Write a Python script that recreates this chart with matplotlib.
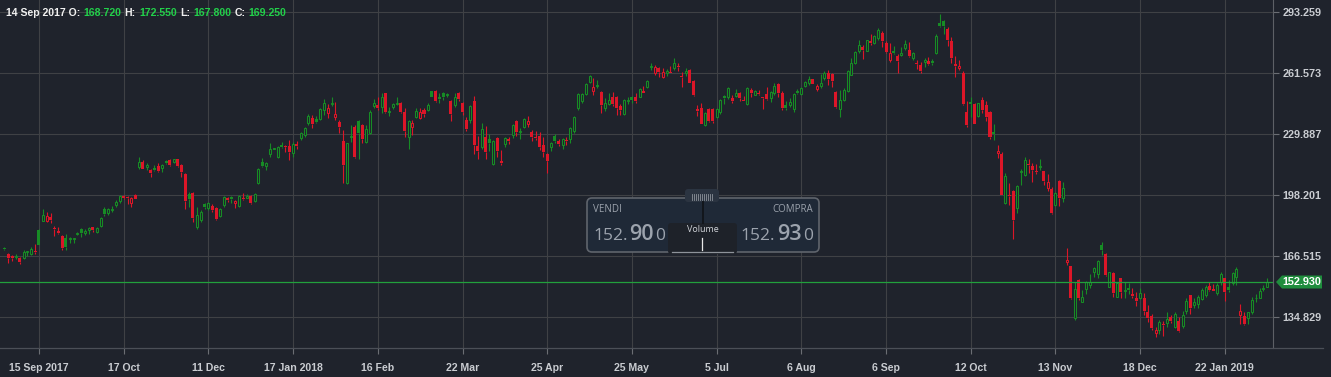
import matplotlib
matplotlib.use('Agg')
import matplotlib.pyplot as plt
import numpy as np
from matplotlib.patches import FancyBboxPatch, Polygon

# daily candles, 14 Sep 2017 -> early Feb 2019
opens = [
    170.8, 167.5, 166.3, 165.8, 165.6, 165.3, 168.5, 167.5, 169.1, 180.0, 184.8, 184.8, 186.7, 181.2, 179.6, 176.9,
    175.8, 175.1, 175.3, 178.1, 180.4, 178.6, 179.8, 181.5, 178.8, 182.1, 190.9, 188.7, 190.4, 193.2, 195.3, 197.9,
    197.2, 194.2, 198.0, 212.9, 215.2, 212.9, 211.2, 212.2, 213.3, 212.1, 215.9, 216.4, 215.5, 216.9, 214.0, 209.1,
    198.9, 199.1, 181.7, 185.2, 193.5, 191.3, 192.6, 191.4, 187.4, 193.0, 196.8, 197.2, 193.9, 192.5, 196.5, 196.8,
    197.9, 195.3, 204.3, 215.2, 213.5, 219.5, 222.3, 218.1, 224.2, 223.3, 223.7, 219.9, 224.6, 227.7, 229.4, 235.5,
    238.4, 237.9, 237.9, 242.4, 240.7, 245.5, 238.6, 236.4, 226.5, 204.3, 228.5, 233.8, 236.7, 234.6, 225.9, 230.6,
    244.5, 245.0, 244.2, 251.1, 241.6, 244.2, 245.5, 246.2, 241.6, 228.2, 233.8, 239.0, 238.1, 242.4, 242.4, 252.1,
    252.1, 249.4, 251.4, 250.4, 247.1, 245.0, 251.1, 246.2, 237.2, 237.2, 247.1, 223.7, 223.0, 228.5, 227.2, 214.3,
    227.9, 216.1, 224.7, 227.2, 229.4, 236.7, 230.8, 233.4, 235.1, 231.1, 228.3, 228.9, 224.4, 219.5, 223.0, 228.9,
    226.5, 224.2, 226.8, 227.2, 231.7, 243.3, 247.3, 250.7, 257.2, 252.5, 255.0, 252.0, 243.3, 245.5, 249.0, 249.4,
    244.5, 240.2, 247.1, 249.0, 249.0, 249.4, 252.3, 254.2, 265.0, 261.5, 264.1, 259.4, 261.5, 262.4, 264.1, 265.3,
    260.1, 261.5, 263.2, 257.5, 242.8, 243.3, 234.6, 242.8, 242.8, 238.6, 241.6, 249.7, 249.0, 248.8, 249.7, 251.4,
    247.7, 245.4, 252.8, 250.4, 251.3, 249.3, 250.8, 248.7, 251.3, 256.0, 251.3, 244.9, 244.9, 243.1, 252.5, 250.8,
    254.7, 256.5, 258.6, 253.5, 254.7, 259.1, 261.7, 261.2, 251.8, 243.1, 247.8, 252.1, 260.8, 266.9, 273.0, 275.2,
    273.3, 278.2, 277.3, 279.9, 282.5, 277.3, 268.6, 273.3, 270.7, 271.2, 274.7, 273.6, 269.6, 266.6, 265.8, 267.6,
    268.1, 268.1, 271.9, 287.9, 288.9, 284.6, 278.5, 266.2, 264.5, 261.5, 241.6, 246.8, 245.5, 239.3, 247.6, 245.0,
    241.6, 231.2, 219.9, 219.4, 194.2, 198.2, 200.3, 191.3, 210.0, 208.6, 214.4, 213.3, 210.3, 212.8, 210.7, 201.7,
    201.3, 193.0, 205.5, 196.5, 163.2, 161.3, 134.0, 154.0, 142.7, 149.3, 151.4, 158.3, 156.9, 172.2, 167.5, 150.5,
    157.5, 145.3, 154.8, 148.3, 150.0, 146.5, 144.8, 144.8, 144.8, 137.2, 135.2, 126.2, 128.0, 130.9, 131.4, 134.6,
    129.7, 132.6, 130.2, 137.9, 146.2, 141.0, 141.3, 144.1, 146.2, 151.0, 149.3, 147.0, 153.1, 155.2, 150.5, 152.2,
    155.4, 135.8, 135.4, 134.4, 137.2, 144.4, 144.8, 149.3, 150.5,
]
highs = [
    171.3, 167.9, 167.0, 167.5, 166.1, 169.6, 169.2, 171.3, 172.5, 180.4, 190.7, 189.5, 188.7, 182.1, 181.4, 177.4,
    177.9, 176.2, 175.9, 179.1, 180.9, 180.4, 181.4, 181.7, 181.4, 186.9, 192.1, 191.3, 192.5, 195.6, 198.2, 198.4,
    197.5, 197.3, 198.7, 218.1, 216.4, 214.7, 211.6, 213.8, 214.7, 214.3, 216.4, 216.8, 217.1, 217.1, 214.3, 209.5,
    199.9, 199.8, 192.1, 190.4, 194.2, 194.4, 193.3, 192.1, 191.3, 197.9, 197.3, 197.7, 195.6, 198.0, 199.4, 198.5,
    198.2, 199.1, 212.1, 217.3, 215.5, 225.1, 222.8, 223.7, 225.6, 224.2, 226.8, 225.6, 226.5, 231.2, 233.4, 240.3,
    239.8, 239.3, 243.3, 248.0, 245.5, 249.0, 246.8, 237.2, 232.0, 225.4, 234.6, 234.6, 237.2, 235.0, 234.6, 242.4,
    248.0, 249.4, 251.4, 251.4, 244.2, 246.2, 249.0, 246.8, 243.3, 237.2, 237.2, 243.3, 243.6, 243.3, 246.2, 252.5,
    252.8, 251.1, 252.0, 251.4, 247.6, 251.1, 251.8, 246.8, 239.0, 245.0, 249.7, 228.9, 235.5, 234.1, 229.9, 226.8,
    228.5, 221.6, 228.5, 228.2, 235.0, 237.2, 232.9, 238.1, 239.3, 232.0, 231.7, 231.1, 228.5, 220.2, 225.9, 229.8,
    227.2, 227.7, 228.2, 233.8, 239.3, 251.4, 251.1, 256.6, 260.6, 258.9, 258.0, 252.5, 248.5, 251.4, 252.0, 249.7,
    245.5, 248.0, 249.0, 249.7, 251.1, 253.7, 255.1, 258.0, 266.7, 265.7, 264.6, 264.1, 263.6, 265.3, 269.3, 267.1,
    262.4, 264.1, 263.6, 258.0, 245.0, 245.9, 241.6, 243.3, 243.6, 243.3, 248.0, 250.2, 254.6, 250.2, 253.2, 252.0,
    249.7, 254.2, 253.7, 253.0, 253.0, 249.3, 254.4, 252.5, 256.3, 256.3, 252.1, 246.9, 248.7, 251.3, 253.5, 254.6,
    257.7, 259.9, 258.7, 256.0, 261.2, 262.5, 263.4, 261.7, 252.1, 253.0, 253.9, 263.4, 269.5, 273.0, 278.7, 276.4,
    279.0, 282.0, 281.3, 285.1, 283.7, 278.2, 277.3, 275.6, 271.6, 275.0, 279.0, 277.8, 272.8, 268.4, 267.6, 269.3,
    270.2, 268.8, 282.0, 292.4, 289.3, 285.4, 280.2, 270.5, 268.4, 262.7, 247.1, 249.4, 245.9, 246.2, 249.0, 247.3,
    242.1, 235.1, 224.2, 220.7, 209.5, 204.6, 200.8, 203.4, 211.6, 218.2, 216.8, 215.0, 214.3, 216.8, 210.7, 209.0,
    202.5, 200.0, 206.0, 205.1, 170.5, 161.4, 153.1, 154.5, 148.8, 153.5, 156.9, 160.9, 164.4, 173.9, 167.9, 158.3,
    158.0, 153.1, 155.2, 153.1, 152.2, 149.6, 147.6, 149.6, 147.0, 141.0, 136.1, 129.7, 133.2, 132.6, 137.2, 135.8,
    137.5, 134.9, 137.9, 144.4, 146.2, 144.4, 146.2, 150.0, 151.4, 152.8, 151.7, 152.2, 158.3, 155.2, 154.0, 158.0,
    160.6, 141.3, 137.2, 137.5, 145.3, 146.5, 150.0, 151.4, 155.2,
]
lows = [
    169.6, 163.0, 164.0, 164.7, 162.3, 164.7, 166.4, 166.8, 167.5, 172.0, 184.5, 184.1, 183.8, 177.0, 177.9, 169.6,
    169.6, 173.1, 173.2, 177.2, 176.5, 177.4, 177.9, 178.8, 178.3, 181.7, 187.3, 187.8, 189.2, 191.8, 193.9, 196.3,
    193.3, 192.1, 195.9, 211.7, 211.6, 211.2, 207.4, 210.9, 210.3, 210.2, 214.3, 213.5, 214.7, 212.9, 207.7, 191.1,
    192.1, 184.3, 180.3, 184.3, 191.1, 190.4, 189.4, 185.2, 186.9, 192.1, 194.6, 194.2, 191.3, 192.1, 195.6, 196.5,
    193.5, 194.7, 203.7, 212.9, 211.2, 218.1, 222.1, 217.3, 222.5, 220.7, 216.4, 218.1, 222.3, 226.8, 228.5, 234.8,
    233.2, 235.5, 237.2, 239.8, 238.1, 244.5, 237.2, 230.6, 204.6, 203.9, 225.9, 217.3, 217.1, 225.1, 225.4, 229.9,
    243.3, 242.4, 241.0, 240.7, 239.5, 242.8, 245.0, 240.7, 228.2, 221.9, 229.4, 238.1, 237.6, 239.0, 242.1, 249.0,
    246.8, 245.9, 247.6, 249.4, 236.7, 244.2, 247.3, 239.8, 231.7, 235.8, 219.5, 216.8, 221.9, 216.8, 221.3, 213.8,
    217.8, 213.8, 223.0, 224.7, 227.7, 228.9, 227.2, 232.9, 233.8, 226.5, 226.8, 221.6, 218.1, 209.5, 221.3, 225.1,
    223.7, 221.9, 224.2, 225.4, 230.6, 242.4, 245.9, 250.2, 256.6, 250.2, 253.7, 241.0, 242.1, 245.0, 244.5, 239.8,
    239.8, 239.8, 245.6, 245.9, 245.9, 249.0, 251.1, 253.7, 263.2, 260.6, 259.4, 258.9, 260.1, 261.5, 263.2, 262.9,
    254.6, 260.1, 256.3, 249.7, 239.3, 235.0, 234.1, 236.4, 235.8, 238.1, 240.4, 245.5, 248.0, 246.2, 249.0, 247.3,
    247.1, 244.9, 249.4, 250.1, 250.1, 243.1, 247.8, 246.6, 250.4, 249.0, 242.6, 242.6, 243.8, 241.4, 250.8, 250.1,
    254.2, 255.3, 255.9, 252.5, 253.9, 258.2, 255.6, 254.2, 243.5, 238.6, 247.3, 251.8, 260.5, 266.4, 272.1, 269.1,
    273.0, 276.1, 276.8, 279.0, 275.0, 272.1, 267.4, 271.7, 261.7, 270.4, 273.8, 270.2, 268.4, 263.6, 261.5, 264.6,
    265.8, 265.8, 271.4, 285.8, 282.0, 275.7, 267.1, 259.8, 263.3, 245.0, 233.8, 239.0, 235.0, 238.6, 240.7, 236.9,
    227.3, 226.8, 217.3, 198.0, 193.5, 193.0, 175.1, 188.7, 203.4, 208.3, 209.5, 205.1, 209.1, 211.2, 203.4, 200.5,
    188.3, 192.5, 192.5, 194.7, 161.8, 144.3, 133.2, 143.6, 142.4, 146.5, 149.6, 155.7, 155.2, 167.0, 156.2, 150.4,
    145.3, 145.2, 144.8, 144.4, 146.5, 144.4, 140.6, 144.1, 135.8, 131.9, 128.0, 124.5, 125.7, 125.0, 129.7, 131.4,
    129.2, 127.1, 129.2, 136.1, 136.1, 139.6, 139.2, 143.6, 145.3, 148.4, 148.3, 146.2, 151.4, 143.1, 147.6, 151.4,
    151.4, 130.9, 130.6, 130.9, 136.1, 142.7, 144.4, 148.3, 150.5,
]
closes = [
    169.9, 165.6, 165.5, 166.6, 163.5, 168.5, 169.1, 169.9, 168.4, 172.4, 187.6, 187.3, 185.2, 180.4, 178.6, 170.4,
    171.3, 175.6, 175.7, 178.4, 178.6, 179.6, 180.9, 180.0, 180.9, 186.0, 188.5, 190.7, 190.9, 194.6, 197.7, 196.8,
    196.6, 196.5, 196.3, 215.5, 211.9, 214.0, 209.8, 211.4, 210.9, 213.8, 215.0, 213.8, 216.8, 213.5, 210.3, 195.3,
    196.3, 186.4, 187.6, 189.4, 192.1, 193.9, 190.4, 185.9, 190.9, 197.3, 195.6, 196.1, 195.1, 197.7, 195.9, 197.7,
    193.9, 198.7, 211.5, 213.5, 214.7, 222.0, 222.6, 223.0, 223.4, 223.0, 220.7, 224.7, 223.9, 230.3, 232.9, 239.3,
    235.3, 236.2, 242.8, 246.2, 243.3, 246.2, 240.3, 233.4, 213.8, 225.1, 228.9, 218.1, 230.6, 227.5, 232.5, 241.6,
    246.2, 243.3, 249.4, 241.6, 242.1, 245.5, 246.2, 241.6, 231.7, 236.7, 235.8, 242.1, 241.6, 240.3, 245.0, 249.4,
    247.3, 248.2, 249.0, 250.9, 240.3, 249.4, 248.0, 241.6, 232.5, 244.5, 224.2, 221.1, 232.4, 220.7, 225.1, 226.3,
    221.3, 215.0, 227.9, 226.5, 234.4, 231.2, 231.3, 237.6, 236.9, 228.2, 227.9, 223.3, 220.7, 215.9, 225.1, 226.5,
    224.7, 227.2, 226.3, 232.9, 238.6, 250.7, 250.8, 255.9, 260.1, 254.6, 255.3, 245.0, 245.9, 247.6, 245.5, 243.3,
    242.4, 247.6, 247.7, 247.8, 247.3, 253.2, 251.4, 257.5, 265.3, 265.0, 262.4, 262.2, 262.9, 261.9, 267.1, 264.8,
    259.8, 262.9, 256.6, 250.2, 242.1, 235.1, 240.7, 236.9, 236.7, 242.8, 247.6, 248.5, 253.7, 247.1, 251.4, 248.5,
    247.3, 253.7, 251.4, 252.1, 250.8, 248.9, 248.3, 251.8, 255.1, 251.3, 243.5, 243.6, 246.6, 250.8, 251.3, 253.9,
    257.0, 258.7, 256.0, 255.1, 256.5, 261.7, 258.7, 257.7, 243.8, 247.8, 253.0, 262.9, 266.9, 272.4, 276.1, 273.8,
    278.7, 277.1, 280.8, 284.2, 278.2, 272.6, 272.1, 272.2, 268.1, 271.9, 276.8, 270.7, 271.9, 266.3, 262.9, 268.3,
    266.4, 267.1, 280.9, 286.1, 286.2, 278.9, 269.6, 265.5, 265.4, 245.4, 234.6, 245.5, 235.1, 245.9, 242.4, 238.6,
    228.2, 230.0, 221.1, 198.2, 208.1, 197.7, 185.2, 202.9, 210.6, 216.4, 214.0, 211.2, 210.0, 213.2, 205.7, 205.1,
    188.7, 199.1, 196.8, 202.0, 164.2, 144.4, 149.3, 144.4, 145.3, 152.8, 153.1, 160.0, 163.9, 169.6, 156.6, 158.0,
    147.4, 152.2, 147.9, 148.8, 148.9, 145.8, 143.1, 147.0, 137.9, 134.4, 129.2, 128.0, 132.3, 130.6, 133.7, 132.6,
    136.1, 127.4, 135.8, 143.1, 139.2, 142.7, 145.3, 148.8, 150.5, 148.8, 148.4, 151.4, 156.9, 147.6, 148.8, 157.5,
    159.5, 137.9, 130.9, 137.2, 143.6, 144.8, 148.3, 150.0, 152.8,
]

tick_candles = [9, 31, 53, 75, 97, 119, 141, 163, 185, 207, 229, 251, 273, 295, 317]
tick_labels = ['15 Sep 2017', '17 Oct', '11 Dec', '17 Jan 2018', '16 Feb', '22 Mar', '25 Apr', '25 May',
               '5 Jul', '6 Aug', '6 Sep', '12 Oct', '13 Nov', '18 Dec', '22 Jan 2019']
price_ticks = [134.829, 166.515, 198.201, 229.887, 261.573, 293.259]
last_price = 152.930
header_day = '14 Sep 2017'
header_ohlc = [('O', 168.720), ('H', 172.550), ('L', 167.800), ('C', 169.250)]
bid_price = 152.900
ask_price = 152.930

BG = '#1f232c'
GRID = '#3f4145'
GREEN = '#178c25'
RED = '#dc1628'
LABEL = '#c9ccd1'
FONT = 'Liberation Sans'

W, H = 1331, 377
fig = plt.figure(figsize=(W / 100, H / 100), dpi=100, facecolor=BG)
ax = fig.add_axes([0, 29 / H, 1273 / W, 348 / H])
ax.set_facecolor(BG)

o = np.array(opens)
hi = np.array(highs)
lo = np.array(lows)
c = np.array(closes)
idx = np.arange(len(c))
prev = np.concatenate([[c[0]], c[:-1]])
col = np.where(c >= prev, GREEN, RED)
hollow = c > o
top = np.maximum(o, c)
bot = np.minimum(o, c)
body = np.maximum(top - bot, 0.45)

ax.vlines(idx, top, hi, colors=col, lw=0.8, zorder=2)
ax.vlines(idx, lo, bot, colors=col, lw=0.8, zorder=2)
f = ~hollow
ax.bar(idx[f], body[f], bottom=bot[f], width=0.78, color=col[f], lw=0, zorder=3)
ax.bar(idx[hollow], body[hollow], bottom=bot[hollow], width=0.52, facecolor=BG,
       edgecolor=col[hollow], lw=0.75, zorder=3)

ax.axhline(last_price, color='#22a03c', lw=0.9, zorder=4)

ax.set_xlim(-1.12, 329.5)
ax.set_ylim(118.6, 299.66)
ax.set_xticks(tick_candles)
ax.set_xticklabels(tick_labels)
ax.yaxis.tick_right()
ax.set_yticks(price_ticks)
ax.set_yticklabels([f'{v:.3f}' for v in price_ticks])
ax.tick_params(axis='x', colors='#6b6e74', labelcolor=LABEL, length=4, width=0.8, pad=7, labelsize=7.6)
ax.tick_params(axis='y', colors='#6b6e74', labelcolor=LABEL, length=4, width=0.8, pad=3, labelsize=7.8)
for t in ax.get_xticklabels() + ax.get_yticklabels():
    t.set_fontweight('bold')
    t.set_family(FONT)
ax.grid(True, color=GRID, lw=0.8)
ax.set_axisbelow(True)
for s in ['top', 'left', 'bottom']:
    ax.spines[s].set_visible(False)
ax.spines['right'].set_color('#5d6066')
ax.spines['right'].set_linewidth(0.8)

# pixel overlay for header, price tag and the trade widget
ov = fig.add_axes([0, 0, 1, 1], zorder=5)
ov.set_xlim(0, W)
ov.set_ylim(H, 0)
ov.axis('off')
ov.patch.set_alpha(0)
ov.plot([0, 1323], [348, 348], color='#4b4f57', lw=0.9)

fig.canvas.draw()
r = fig.canvas.get_renderer()


def run_text(x, y, parts, gap, **kw):
    for s, color, size, weight in parts:
        t = ov.text(x, y, s, color=color, fontsize=size, fontweight=weight, va='baseline', **kw)
        x = t.get_window_extent(renderer=r).x1 + gap
    return x


parts = [(header_day + ' O:', '#f0f0f0', 7.6, 'bold')]
for i, (k, v) in enumerate(header_ohlc):
    if i:
        parts.append((k + ':', '#f0f0f0', 7.6, 'bold'))
    parts.append((f'{v:.3f}', '#22d04a', 7.6, 'bold'))
run_text(6, 15.5, parts, 3.2, family=FONT)

# price tag on the right axis
py = H - ax.transData.transform((0, last_price))[1]
ov.add_patch(Polygon([(1276, py), (1282, py - 6.5), (1322, py - 6.5), (1322, py + 6.5), (1282, py + 6.5)],
                     closed=True, facecolor='#1f8d3d', edgecolor='none'))
ov.text(1302, py, f'{last_price:.3f}', color='white', fontsize=7.8, fontweight='bold',
        ha='center', va='center', family=FONT)

# trade widget
WF = 'Open Sans'
ov.add_patch(FancyBboxPatch((587, 198), 232, 54, boxstyle='round,pad=0,rounding_size=5',
                            facecolor='#1f2937', edgecolor='#5f646c', lw=1.2))
ov.add_patch(FancyBboxPatch((685, 189), 34, 13, boxstyle='round,pad=0,rounding_size=3',
                            facecolor='#2b3441', edgecolor='none'))
for hx in np.arange(692, 713, 2):
    ov.plot([hx, hx], [194, 199.5], color='#8c929a', lw=0.6)
ov.plot([703, 703], [202, 223], color='#12161c', lw=1.4)
ov.add_patch(FancyBboxPatch((668, 223), 69, 31, boxstyle='round,pad=0,rounding_size=3',
                            facecolor='#1e2229', edgecolor='none'))
ov.text(702.5, 229, 'Volume', color='#d2d5da', fontsize=6.5, ha='center', va='center', family=WF)
ov.plot([702, 702], [238, 250], color='#e8e8e8', lw=0.9)
ov.plot([672, 733], [251.5, 251.5], color='#8e939a', lw=0.9)

WC = '#9ca3ad'
ov.text(593, 210, 'VENDI', color=WC, fontsize=7, va='center', family=WF)
ov.text(813, 210, 'COMPRA', color=WC, fontsize=7, va='center', ha='right', family=WF)


def price_parts(p):
    s = f'{p:.3f}'
    return [(s[:4], WC, 12.5, 'normal'), (s[4:6], WC, 15.5, 'semibold'), (s[6:], WC, 12.5, 'normal')]


run_text(593, 240.5, price_parts(bid_price), 1.5, family=WF)
# right aligned ask price: measure first, then place
widths = []
for s, color, size, weight in price_parts(ask_price):
    t = ov.text(0, 240.5, s, fontsize=size, fontweight=weight, family=WF)
    widths.append(t.get_window_extent(renderer=r).width)
    t.remove()
total = sum(widths) + 2 * 1.5
run_text(813 - total, 240.5, price_parts(ask_price), 1.5, family=WF)

fig.savefig('out.png', dpi=100, facecolor=BG)
